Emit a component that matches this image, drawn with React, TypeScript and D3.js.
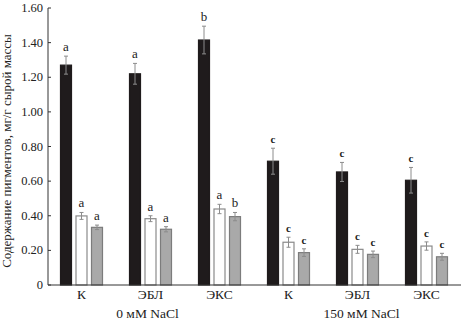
import React from "react";
import * as d3 from "d3";

const categories = ["К", "ЭБЛ", "ЭКС", "К", "ЭБЛ", "ЭКС"];
const groupLabels = ["0 мМ NaCl", "150 мМ NaCl"];
const series1 = [1.27, 1.22, 1.415, 0.715, 0.653, 0.605];
const err1 = [0.052, 0.06, 0.08, 0.075, 0.055, 0.074];
const series2 = [0.399, 0.383, 0.439, 0.247, 0.206, 0.225];
const err2 = [0.02, 0.017, 0.027, 0.029, 0.023, 0.024];
const series3 = [0.333, 0.322, 0.395, 0.187, 0.177, 0.163];
const err3 = [0.013, 0.015, 0.024, 0.022, 0.019, 0.02];
const letters1 = ["a", "a", "b", "c", "c", "c"];
const letters2 = ["a", "a", "a", "c", "c", "c"];
const letters3 = ["a", "a", "b", "c", "c", "c"];
const yTicks = [0, 0.2, 0.4, 0.6, 0.8, 1.0, 1.2, 1.4, 1.6];
const yTitle = "Содержание пигментов, мг/г сырой массы";

const W = 461;
const H = 323;
const left = 48;
const right = 461;
const top = 8;
const bottom = 285;

const seriesStyles = [
  { fill: "#1f1b1c", stroke: "#1f1b1c" },
  { fill: "#ffffff", stroke: "#8a8a8a" },
  { fill: "#a9a9a9", stroke: "#7c7c7c" },
];

export default function App() {
  const x = d3.scaleBand<number>().domain(d3.range(categories.length)).range([left - 1, right]).padding(0);
  const y = d3.scaleLinear().domain([0, 1.6]).range([bottom, top]);
  const barW = 12;
  const gap = 3.5;
  const all = [
    { v: series1, e: err1, l: letters1 },
    { v: series2, e: err2, l: letters2 },
    { v: series3, e: err3, l: letters3 },
  ];
  const font = "'Liberation Serif', 'DejaVu Serif', serif";
  return (
    <svg width={W} height={H} style={{ position: "absolute", left: 0, top: 0, background: "#fff", fontFamily: font }}>
      {categories.map((c, i) => {
        const center = (x(i) as number) + x.bandwidth() / 2;
        return (
          <g key={i}>
            {all.map((s, j) => {
              const bx = center + (j - 1) * (barW + gap) - barW / 2;
              const val = s.v[i];
              const e = s.e[i];
              const cx = bx + barW / 2;
              const isC = s.l[i] === "c";
              return (
                <g key={j}>
                  <rect
                    x={bx + 0.5}
                    y={y(val)}
                    width={barW - 1}
                    height={bottom - y(val)}
                    fill={seriesStyles[j].fill}
                    stroke={seriesStyles[j].stroke}
                    strokeWidth={1.2}
                  />
                  <line x1={cx} x2={cx} y1={y(val + e)} y2={y(val - e)} stroke="#8c8c8c" strokeWidth={1} />
                  <line x1={cx - 2} x2={cx + 2} y1={y(val + e)} y2={y(val + e)} stroke="#8c8c8c" strokeWidth={1} />
                  <line x1={cx - 2} x2={cx + 2} y1={y(val - e)} y2={y(val - e)} stroke="#8c8c8c" strokeWidth={1} />
                  <text
                    x={cx}
                    y={y(val + e) - 5}
                    textAnchor="middle"
                    fontSize={isC ? 11 : 13}
                    fontWeight={isC ? "bold" : "normal"}
                    fill="#222"
                  >
                    {s.l[i]}
                  </text>
                </g>
              );
            })}
            <text x={center} y={299} textAnchor="middle" fontSize={13.5} fill="#222">
              {c}
            </text>
          </g>
        );
      })}
      {groupLabels.map((g, k) => {
        const i = k * 3 + 1;
        const center = (x(i) as number) + x.bandwidth() / 2 + (k === 0 ? -3 : 4);
        return (
          <text key={k} x={center} y={318} textAnchor="middle" fontSize={13.5} fill="#222">
            {g}
          </text>
        );
      })}
      <line x1={left} x2={left} y1={top} y2={bottom} stroke="#333" strokeWidth={1} />
      <line x1={left} x2={right} y1={bottom} y2={bottom} stroke="#333" strokeWidth={1} />
      {yTicks.map((t) => (
        <g key={t}>
          <line x1={left} x2={left + 3} y1={y(t)} y2={y(t)} stroke="#333" strokeWidth={1} />
          <text x={43} y={y(t) + 4} textAnchor="end" fontSize={12.5} fill="#222">
            {t === 0 ? "0" : d3.format(".2f")(t)}
          </text>
        </g>
      ))}
      <text
        transform={`translate(11, 151) rotate(-90)`}
        textAnchor="middle"
        fontSize={13}
        fill="#222"
      >
        {yTitle}
      </text>
    </svg>
  );
}
